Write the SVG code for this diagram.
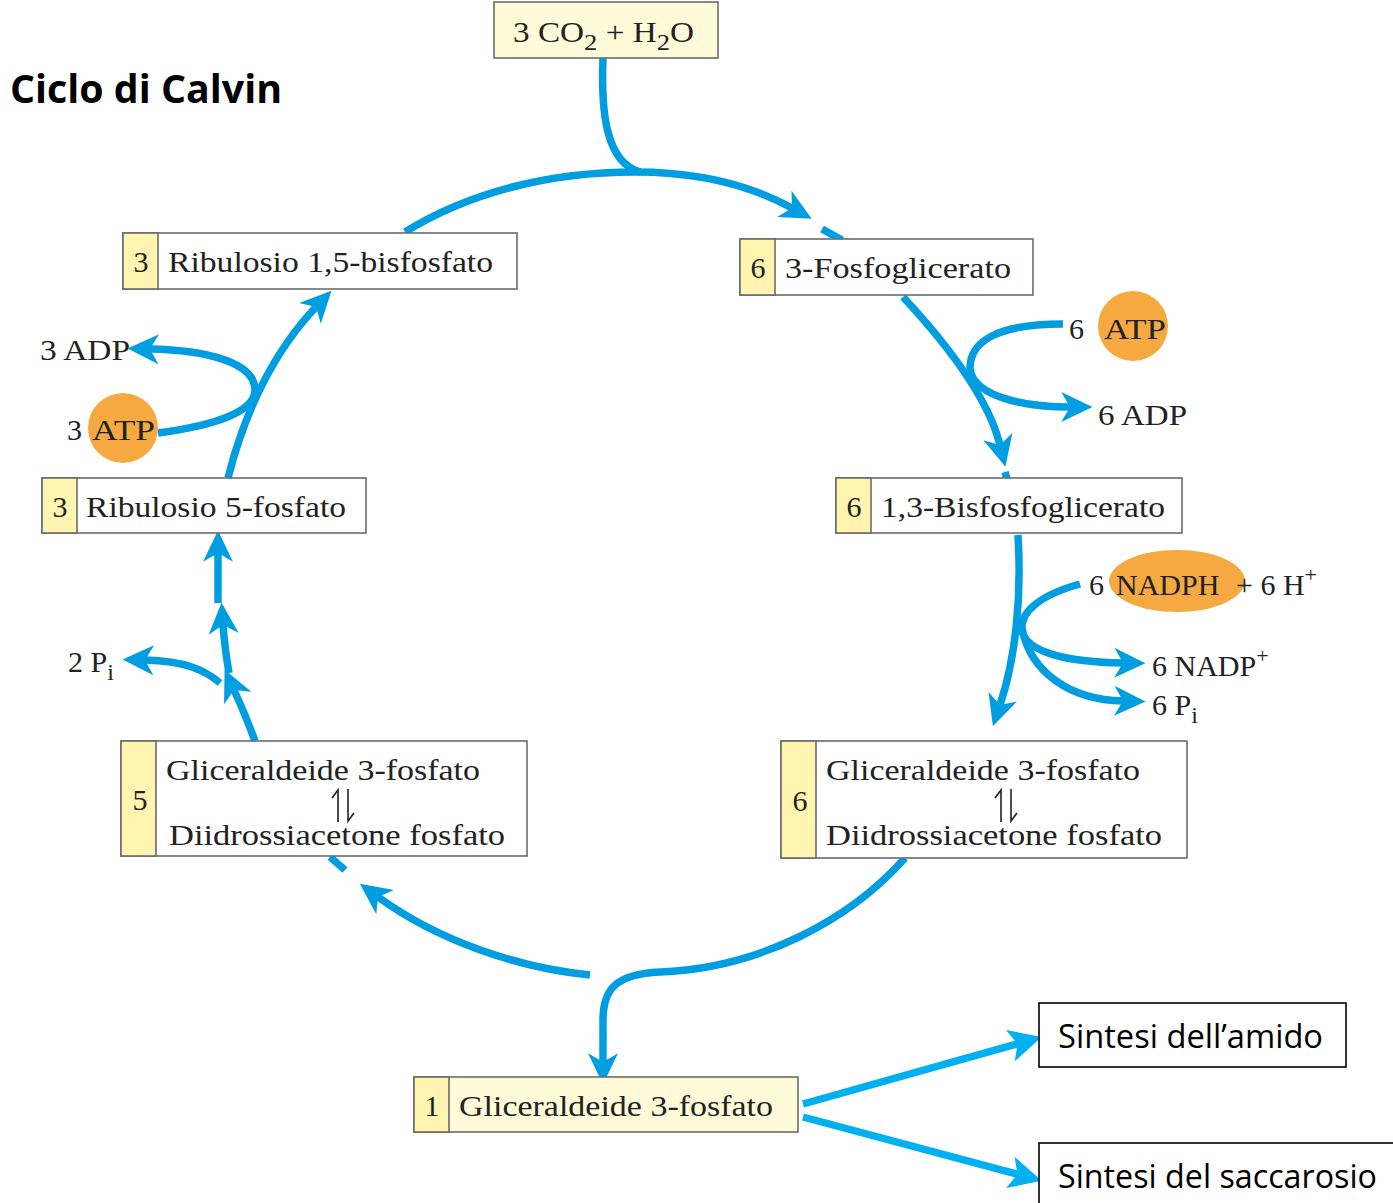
<svg xmlns="http://www.w3.org/2000/svg" width="1393" height="1203" viewBox="0 0 1393 1203">
  <style>
    .box { fill: #ffffff; stroke: #6b6b6b; stroke-width: 1.6; }
    .cream { fill: #fffad8; stroke: #6b6b6b; stroke-width: 1.6; }
    .cell { fill: #fff4b0; stroke: #6b6b6b; stroke-width: 1.6; }
    .lbl { font-family: "Liberation Serif", "DejaVu Serif", serif; font-size: 30px; fill: #222222; }
    .num { font-family: "Liberation Serif", "DejaVu Serif", serif; font-size: 30px; fill: #222222; text-anchor: middle; }
    .sans { font-family: "Open Sans", "Liberation Sans", sans-serif; font-size: 32px; fill: #000000; }
    .flow { fill: none; stroke: #009ee0; stroke-width: 7.5; }
    .out { fill: none; stroke: #00b0f0; stroke-width: 7.5; }
    .orange { fill: #f5a940; }
    .harp { fill: none; stroke: #222222; stroke-width: 1.6; }
  </style>
  <defs>
    <marker id="head" markerUnits="userSpaceOnUse" markerWidth="40" markerHeight="40" viewBox="-10 -14 32 28" refX="0" refY="0" orient="auto">
      <path d="M18,0 L-7,-12 L0,0 L-7,12 Z" fill="#009ee0"/>
    </marker>
    <marker id="headOut" markerUnits="userSpaceOnUse" markerWidth="40" markerHeight="40" viewBox="-10 -14 32 28" refX="0" refY="0" orient="auto">
      <path d="M18,0 L-8,-13 L-2,0 L-8,13 Z" fill="#00b0f0"/>
    </marker>
  </defs>

  <rect width="1393" height="1203" fill="#ffffff"/>

  <!-- title -->
  <text x="10" y="103" font-family="'Open Sans', 'Liberation Sans', sans-serif" font-weight="bold" font-size="40" textLength="272" lengthAdjust="spacingAndGlyphs">Ciclo di Calvin</text>

  <!-- connectors -->
  <g id="connectors">
    <!-- CO2 inflow merging into the cycle -->
    <path class="flow" d="M603,58 C601,110 605,162 640,172"/>
    <!-- top arc: RuBP -> 3-phosphoglycerate -->
    <path class="flow" d="M405,232 C470,192 550,172 635,172 C700,172 750,185 792,208" marker-end="url(#head)"/>
    <path class="flow" d="M822,229 L842,240"/>
    <!-- 3-PG -> 1,3-BPG -->
    <path class="flow" d="M903,297 Q985,385 1000,445" marker-end="url(#head)"/>
    <path class="flow" d="M1005,472 L1007,479"/>
    <!-- ATP -> ADP (right) -->
    <path class="flow" d="M1063,324 C1000,324 970,340 970,368 C972,395 1020,407 1070,407" marker-end="url(#head)"/>
    <!-- 1,3-BPG -> G3P -->
    <path class="flow" d="M1018,535 C1022,600 1015,660 1000,705" marker-end="url(#head)"/>
    <!-- NADPH -> NADP+ and Pi -->
    <path class="flow" d="M1080,584 C1040,595 1020,612 1022,630 C1025,650 1060,662 1123,663" marker-end="url(#head)"/>
    <path class="flow" d="M1022,628 C1030,672 1070,700 1123,701" marker-end="url(#head)"/>
    <!-- bottom right arc down to single G3P -->
    <path class="flow" d="M905,858 C850,920 760,968 660,972 C615,974 603,990 603,1020 L603,1062" marker-end="url(#head)"/>
    <!-- bottom left arc -->
    <path class="flow" d="M590,975 C520,968 440,942 378,897" marker-end="url(#head)"/>
    <path class="flow" d="M330,857 L345,870"/>
    <!-- left chain up to ribulose 5-phosphate -->
    <path class="flow" d="M255,741 C248,722 240,703 234,690" marker-end="url(#head)"/>
    <path class="flow" d="M229,673 C226,655 224,640 223,625" marker-end="url(#head)"/>
    <path class="flow" d="M218,603 L218,553" marker-end="url(#head)"/>
    <path class="flow" d="M220,683 C205,670 185,661 145,660" marker-end="url(#head)"/>
    <!-- Ru5P -> RuBP -->
    <path class="flow" d="M228,478 C245,410 275,350 316,307" marker-end="url(#head)"/>
    <!-- ATP -> ADP (left) -->
    <path class="flow" d="M158,433 C220,425 255,410 255,390 C255,362 205,350 150,349" marker-end="url(#head)"/>
    <!-- outputs -->
    <path class="out" d="M803,1104 L1020,1043" marker-end="url(#headOut)"/>
    <path class="out" d="M803,1117 L1020,1175" marker-end="url(#headOut)"/>
  </g>

  <!-- substrates -->
  <g id="co2">
    <rect class="cream" x="494" y="2" width="224" height="56"/>
    <text class="lbl" x="513" y="42" textLength="181" lengthAdjust="spacingAndGlyphs">3 CO<tspan font-size="24" dy="8">2</tspan><tspan dy="-8"> + H</tspan><tspan font-size="24" dy="8">2</tspan><tspan dy="-8">O</tspan></text>
  </g>

  <g id="rubp">
    <rect class="box" x="123" y="233" width="394" height="56"/>
    <rect class="cell" x="123" y="233" width="35" height="56"/>
    <text class="num" x="141" y="272">3</text>
    <text class="lbl" x="168" y="272" textLength="325" lengthAdjust="spacingAndGlyphs">Ribulosio 1,5-bisfosfato</text>
  </g>

  <g id="pga">
    <rect class="box" x="740" y="239" width="293" height="56"/>
    <rect class="cell" x="740" y="239" width="35" height="56"/>
    <text class="num" x="758" y="278">6</text>
    <text class="lbl" x="785" y="278" textLength="226" lengthAdjust="spacingAndGlyphs">3-Fosfoglicerato</text>
  </g>

  <g id="atp-right">
    <circle class="orange" cx="1133" cy="326" r="35"/>
    <text class="lbl" x="1069" y="339">6</text>
    <text class="lbl" x="1104" y="339" textLength="62" lengthAdjust="spacingAndGlyphs">ATP</text>
  </g>
  <g id="adp-right">
    <text class="lbl" x="1098" y="425" textLength="89" lengthAdjust="spacingAndGlyphs">6 ADP</text>
  </g>

  <g id="bpg">
    <rect class="box" x="836" y="478" width="346" height="55"/>
    <rect class="cell" x="836" y="478" width="35" height="55"/>
    <text class="num" x="854" y="517">6</text>
    <text class="lbl" x="881" y="517" textLength="284" lengthAdjust="spacingAndGlyphs">1,3-Bisfosfoglicerato</text>
  </g>

  <g id="nadph">
    <ellipse class="orange" cx="1177" cy="581" rx="68" ry="31"/>
    <text class="lbl" x="1089" y="595">6 <tspan x="1116">NADPH</tspan><tspan x="1236">+ 6 H</tspan><tspan font-size="22" dy="-13">+</tspan></text>
  </g>
  <g id="nadp">
    <text class="lbl" x="1152" y="676">6 NADP<tspan font-size="22" dy="-13">+</tspan></text>
  </g>
  <g id="pi-right">
    <text class="lbl" x="1152" y="715">6 P<tspan font-size="24" dy="8">i</tspan></text>
  </g>

  <g id="triose-right">
    <rect class="box" x="781" y="741" width="406" height="117"/>
    <rect class="cell" x="781" y="741" width="35" height="117"/>
    <text class="num" x="800" y="811">6</text>
    <text class="lbl" x="826" y="780" textLength="314" lengthAdjust="spacingAndGlyphs">Gliceraldeide 3-fosfato</text>
    <path class="harp" d="M1001,822 L1001,790 L995,798 M1011,789 L1011,821 L1017,813"/>
    <text class="lbl" x="826" y="845" textLength="336" lengthAdjust="spacingAndGlyphs">Diidrossiacetone fosfato</text>
  </g>

  <g id="triose-left">
    <rect class="box" x="121" y="741" width="406" height="115"/>
    <rect class="cell" x="121" y="741" width="35" height="115"/>
    <text class="num" x="140" y="810">5</text>
    <text class="lbl" x="166" y="780" textLength="314" lengthAdjust="spacingAndGlyphs">Gliceraldeide 3-fosfato</text>
    <path class="harp" d="M338,822 L338,790 L332,798 M348,789 L348,821 L354,813"/>
    <text class="lbl" x="169" y="845" textLength="336" lengthAdjust="spacingAndGlyphs">Diidrossiacetone fosfato</text>
  </g>

  <g id="pi-left">
    <text class="lbl" x="68" y="672">2 P<tspan font-size="24" dy="8">i</tspan></text>
  </g>

  <g id="ru5p">
    <rect class="box" x="42" y="478" width="324" height="55"/>
    <rect class="cell" x="42" y="478" width="35" height="55"/>
    <text class="num" x="60" y="517">3</text>
    <text class="lbl" x="86" y="517" textLength="260" lengthAdjust="spacingAndGlyphs">Ribulosio 5-fosfato</text>
  </g>

  <g id="atp-left">
    <circle class="orange" cx="123" cy="428" r="35"/>
    <text class="lbl" x="67" y="440">3</text>
    <text class="lbl" x="92" y="440" textLength="63" lengthAdjust="spacingAndGlyphs">ATP</text>
  </g>
  <g id="adp-left">
    <text class="lbl" x="40" y="360" textLength="90" lengthAdjust="spacingAndGlyphs">3 ADP</text>
  </g>

  <g id="g3p-out">
    <rect class="cream" x="414" y="1077" width="384" height="55"/>
    <rect class="cell" x="414" y="1077" width="35" height="55"/>
    <text class="num" x="432" y="1116">1</text>
    <text class="lbl" x="459" y="1116" textLength="314" lengthAdjust="spacingAndGlyphs">Gliceraldeide 3-fosfato</text>
  </g>

  <g id="amido">
    <rect x="1039" y="1003" width="307" height="64" fill="#ffffff" stroke="#000000" stroke-width="1.6"/>
    <text class="sans" x="1058" y="1048" textLength="265" lengthAdjust="spacingAndGlyphs">Sintesi dell’amido</text>
  </g>

  <g id="saccarosio">
    <rect x="1039" y="1143" width="360" height="70" fill="#ffffff" stroke="#000000" stroke-width="1.6"/>
    <text class="sans" x="1058" y="1188" textLength="319" lengthAdjust="spacingAndGlyphs">Sintesi del saccarosio</text>
  </g>
</svg>
